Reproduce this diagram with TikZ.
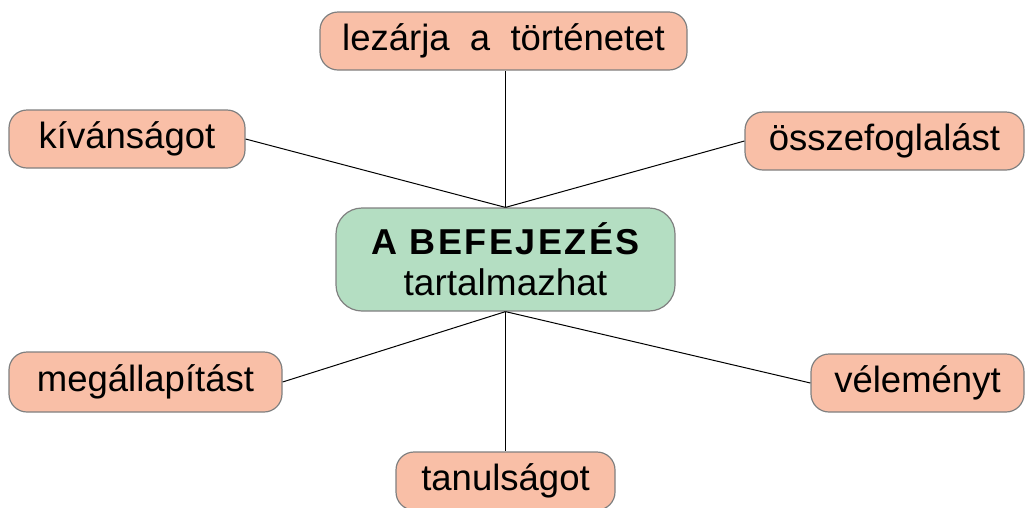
\documentclass[tikz,border=0pt]{standalone}
\usepackage{fontspec}
\setmainfont{Liberation Sans}
\begin{document}
\begin{tikzpicture}[x=1pt,y=-1pt,
  leaf/.style={draw=black!50, line width=1.2pt, fill=salmon, rounded corners=18pt,
    inner sep=0pt, minimum height=58pt, font=\fontsize{36.5}{40}\selectfont},
  hub/.style={draw=black!50, line width=1.2pt, fill=mint, rounded corners=26pt,
    inner sep=0pt, minimum width=339pt, minimum height=103pt, align=center,
    font=\fontsize{36}{40}\selectfont},
  link/.style={draw=black, line width=1pt}]
\definecolor{salmon}{HTML}{F9BFA7}
\definecolor{mint}{HTML}{B4DEC2}
\useasboundingbox (0,0) rectangle (1026,507);
\node[hub] (c) at (505.5,259.5) {{\bfseries\addfontfeature{LetterSpace=7}A BEFEJEZÉS}\\[1pt]{\fontsize{37}{40}\selectfont tartalmazhat}};
\node[leaf, minimum width=367pt] (t) at (503.5,41) {lezárja\ \ a\ \ történetet};
\node[leaf, minimum width=236pt] (k) at (127,139) {kívánságot};
\node[leaf, minimum width=279pt] (o) at (884.5,141) {összefoglalást};
\node[leaf, minimum width=273pt, minimum height=60pt] (m) at (145.5,382) {megállapítást};
\node[leaf, minimum width=213pt] (v) at (917.5,383) {véleményt};
\node[leaf, minimum width=219pt] (u) at (505.5,481) {tanulságot};
\draw[link] (c.north) -- (t.south -| c.north);
\draw[link] (c.north) -- (k.east);
\draw[link] (c.north) -- (o.west);
\draw[link] (c.south) -- (m.east);
\draw[link] (c.south) -- (v.west);
\draw[link] (c.south) -- (u.north);
\end{tikzpicture}
\end{document}
